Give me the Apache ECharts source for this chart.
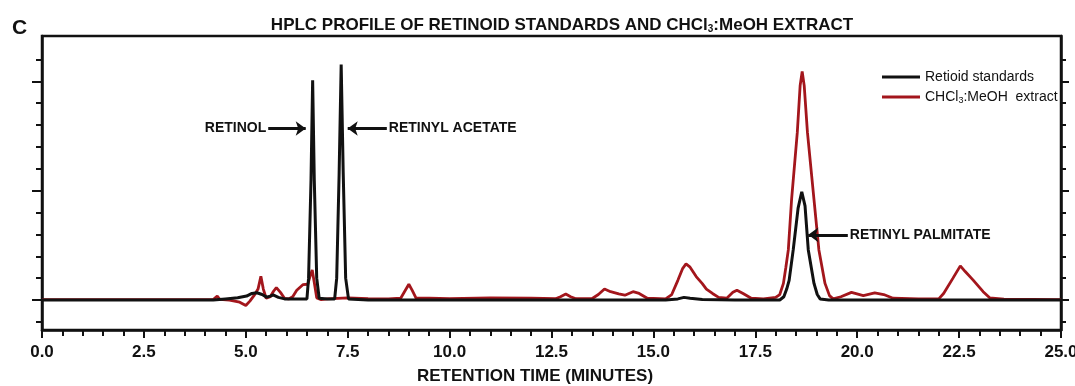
<!DOCTYPE html>
<html>
<head>
<meta charset="utf-8">
<script src="https://cdn.jsdelivr.net/npm/echarts@6/dist/echarts.min.js"></script>
<style>
  html, body { margin: 0; padding: 0; background: #fff; }
  #chart { width: 1075px; height: 386px; }
</style>
</head>
<body>
<div id="chart"></div>
<script>
// retention time (min), detector signal (arbitrary units)
const standards = [
  [0, 0], [4.2, 0], [4.5, 0.05], [4.8, 0.1], [5.02, 0.18], [5.15, 0.3], [5.27, 0.33],
  [5.4, 0.25], [5.51, 0.13], [5.6, 0.18], [5.67, 0.23], [5.8, 0.12], [5.95, 0.05],
  [6.3, 0.05], [6.5, 0.05], [6.54, 1.0], [6.6, 5.5], [6.64, 10.05], [6.68, 5.5],
  [6.74, 1.0], [6.8, 0.08], [7.0, 0.05], [7.18, 0.05], [7.23, 1.0], [7.29, 5.8],
  [7.34, 10.77], [7.39, 5.8], [7.45, 1.0], [7.52, 0.05], [8, 0], [15.3, 0],
  [15.6, 0.05], [15.75, 0.12], [15.9, 0.08], [16.2, 0.02], [17, 0], [18.1, 0],
  [18.2, 0.15], [18.27, 0.5], [18.33, 0.9], [18.43, 2.29], [18.55, 4.2], [18.64, 4.95],
  [18.72, 4.3], [18.8, 2.29], [18.94, 0.76], [19.02, 0.25], [19.09, 0.05], [19.3, 0], [25, 0]
];

const extract = [
  [0, 0.02], [4.2, 0.02], [4.3, 0.18], [4.36, 0.03], [4.6, 0], [4.85, -0.1], [5.0, -0.25],
  [5.1, -0.05], [5.2, 0.2], [5.3, 0.5], [5.37, 1.08], [5.43, 0.5], [5.5, 0.08], [5.6, 0.15],
  [5.68, 0.4], [5.75, 0.57], [5.85, 0.35], [5.95, 0.08], [6.05, 0.05], [6.15, 0.15],
  [6.25, 0.45], [6.4, 0.7], [6.52, 0.72], [6.58, 1.1], [6.63, 1.37], [6.68, 0.8],
  [6.74, 0.1], [6.85, 0.02], [7.0, 0.05], [7.5, 0.1], [8.0, 0.06], [8.5, 0.05], [8.8, 0.08],
  [8.9, 0.4], [9.0, 0.72], [9.08, 0.45], [9.18, 0.08], [9.5, 0.08], [10, 0.06], [11, 0.1],
  [12, 0.08], [12.6, 0.06], [12.72, 0.15], [12.85, 0.27], [12.97, 0.15], [13.1, 0.06],
  [13.5, 0.07], [13.65, 0.25], [13.8, 0.5], [13.95, 0.38], [14.15, 0.28], [14.3, 0.22],
  [14.5, 0.38], [14.65, 0.3], [14.85, 0.08], [15.3, 0.05], [15.45, 0.25], [15.6, 0.9],
  [15.72, 1.45], [15.8, 1.65], [15.9, 1.5], [16.05, 1.07], [16.2, 0.75], [16.3, 0.5],
  [16.45, 0.3], [16.6, 0.12], [16.8, 0.08], [16.95, 0.35], [17.05, 0.45], [17.2, 0.3],
  [17.4, 0.08], [17.7, 0.05], [18.0, 0.12], [18.1, 0.25], [18.19, 0.76], [18.25, 1.5],
  [18.31, 2.29], [18.39, 4.59], [18.53, 7.65], [18.6, 9.8], [18.65, 10.45], [18.7, 9.8],
  [18.78, 7.65], [18.94, 4.59], [19.06, 2.29], [19.21, 0.76], [19.32, 0.2], [19.41, 0.05],
  [19.6, 0.15], [19.86, 0.35], [20.15, 0.2], [20.43, 0.33], [20.65, 0.25], [20.88, 0.08],
  [21.5, 0.05], [22.0, 0.05], [22.12, 0.3], [22.35, 1.0], [22.53, 1.56], [22.65, 1.3],
  [22.84, 0.92], [23.09, 0.38], [23.25, 0.1], [23.6, 0.04], [25, 0.02]
];

const yMinorTicks = [-1, 0, 1, 2, 3, 4, 5, 6, 7, 8, 9, 10, 11];
const yMajorTicks = [0, 5, 10];

// peak annotations: [label, arrow start, arrow end]
const peakLabels = [
  ['RETINOL', [5.55, 7.84], [6.47, 7.84]],
  ['RETINYL ACETATE', [8.46, 7.84], [7.5, 7.84]],
  ['RETINYL PALMITATE', [19.77, 2.98], [18.8, 2.98]]
];

const FONT = 'Liberation Sans, Arial, sans-serif';
const INK = '#111';
const RED = '#a3161c';
const Y_MIN = -1.371, Y_MAX = 12.07;

const yAx = (pos, ticks, len, line) => ({
  type: 'value', position: pos, min: Y_MIN, max: Y_MAX,
  axisLine: { show: line, lineStyle: { color: INK, width: 2.5 } },
  axisTick: { show: true, customValues: ticks, length: len, lineStyle: { color: INK, width: 2 } },
  axisLabel: { show: false },
  splitLine: { show: false }
});

const chart = echarts.init(document.getElementById('chart'));

const option = {
  animation: false,
  textStyle: { fontFamily: FONT },
  title: [{
    left: 557, top: 12, textAlign: 'center',
    text: '{b|HPLC PROFILE OF RETINOID STANDARDS AND CHCl}{s|3}{b|:MeOH EXTRACT}',
    textStyle: {
      rich: {
        b: { fontSize: 17, fontWeight: 'bold', color: INK, fontFamily: FONT, verticalAlign: 'bottom' },
        s: { fontSize: 10, fontWeight: 'bold', color: INK, fontFamily: FONT, verticalAlign: 'bottom', padding: [7, 0, 0, 0] }
      }
    }
  }, {
    left: 7, top: 13, text: 'C',
    textStyle: { fontSize: 21, fontWeight: 'bold', color: INK, fontFamily: FONT }
  }],
  legend: {
    orient: 'vertical', left: 877, top: 65,
    itemWidth: 38, itemHeight: 3, itemGap: 6, icon: 'rect',
    data: ['Retioid standards', 'CHCl3:MeOH extract'],
    formatter: name => name === 'CHCl3:MeOH extract'
      ? '{n|CHCl}{s|3}{n|:MeOH  extract}' : '{n|' + name + '}',
    textStyle: {
      rich: {
        n: { fontSize: 14, color: INK, fontFamily: FONT, lineHeight: 16 },
        s: { fontSize: 9, color: INK, fontFamily: FONT, padding: [7, 0, 0, 0] }
      }
    }
  },
  grid: {
    left: 42, right: 14, top: 36, bottom: 56, outerBoundsMode: 'none',
    show: true, borderColor: INK, borderWidth: 2.5, backgroundColor: 'transparent'
  },
  xAxis: {
    type: 'value', min: 0, max: 25, interval: 2.5,
    axisLine: { onZero: false, lineStyle: { color: INK, width: 2.5 } },
    axisTick: { length: 8, lineStyle: { color: INK, width: 2 } },
    minorTick: { show: true, splitNumber: 5, length: 6, lineStyle: { color: INK, width: 2 } },
    axisLabel: {
      formatter: v => v.toFixed(1), fontSize: 17, fontWeight: 'bold',
      color: INK, margin: 14, fontFamily: FONT, showMaxLabel: true
    },
    splitLine: { show: false }
  },
  yAxis: [
    yAx('left', yMinorTicks, 6, true),
    yAx('left', yMajorTicks, 10, false),
    yAx('right', yMinorTicks, 5, true),
    yAx('right', yMajorTicks, 8, false)
  ],
  graphic: [{
    type: 'text', left: 535 - 118, top: 368,
    style: { text: 'RETENTION TIME (MINUTES)', fill: INK, font: 'bold 17px ' + FONT }
  }],
  series: [{
    name: 'CHCl3:MeOH extract', type: 'line', data: extract,
    showSymbol: false, symbol: 'none', z: 2,
    lineStyle: { color: RED, width: 2.8 }, itemStyle: { color: RED }
  }, {
    name: 'Retioid standards', type: 'line', data: standards,
    showSymbol: false, symbol: 'none', z: 3,
    lineStyle: { color: INK, width: 3 }, itemStyle: { color: INK },
    markLine: {
      silent: true, symbol: ['none', 'arrow'], symbolSize: [11, 10],
      lineStyle: { color: INK, width: 3, type: 'solid' },
      label: { show: true, position: 'start', distance: 2, fontSize: 14, fontWeight: 'bold', color: INK, fontFamily: FONT },
      data: peakLabels.map(([txt, a, b]) => [
        { coord: a, label: { formatter: txt } }, { coord: b }
      ])
    }
  }]
};

chart.setOption(option);
</script>
</body>
</html>
